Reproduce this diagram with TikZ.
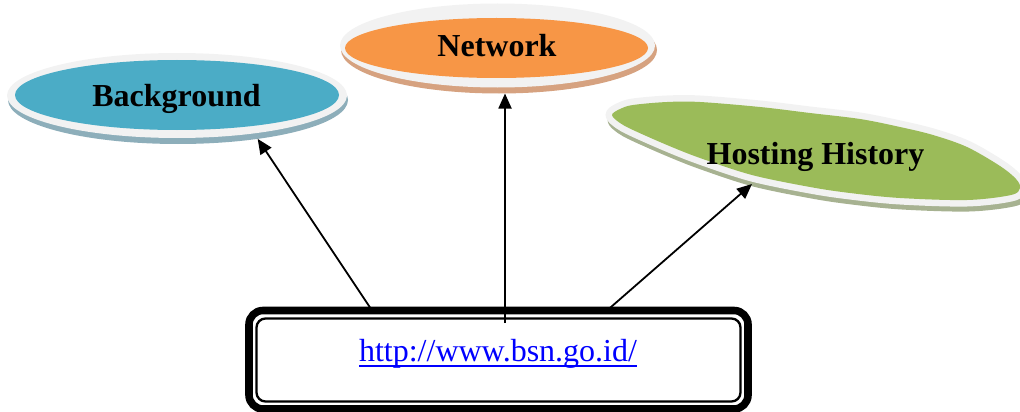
\documentclass[tikz,border=0pt]{standalone}
\usepackage{fontspec}
\setmainfont{Liberation Serif}
\usetikzlibrary{shapes.geometric,arrows.meta}

\definecolor{bgblue}{HTML}{4BACC6}
\definecolor{bgshade}{HTML}{8DAEBA}
\definecolor{netorange}{HTML}{F79646}
\definecolor{netshade}{HTML}{D6A280}
\definecolor{hostgreen}{HTML}{9BBB59}
\definecolor{hostshade}{HTML}{A7B291}
\definecolor{rim}{HTML}{F2F2F2}
\definecolor{linkblue}{HTML}{0000FF}

% hyperlink-style text: the word with a rule under it
\newcommand\ulinktext[1]{\setbox0=\hbox{#1}\rlap{\copy0}\rule[-5.5pt]{\wd0}{2pt}}

% outline of the tilted, perspective-stretched Hosting History disc
\newcommand\hostoutline{plot[smooth cycle, tension=0.55] coordinates {
  (612,115) (620,109) (633,105) (667,102) (700,102) (760,107) (810,113)
  (860,119) (900,127) (933,135) (967,147) (1000,166) (1016,179) (1020,188)
  (1011,195) (967,200) (900,198) (850,193) (810,187) (752,175) (700,158)
  (667,145) (633,130) (620,123)}}

\tikzset{
  blob/.style={ellipse, inner sep=0pt, outer sep=0pt},
  bigbold/.style={font=\fontsize{32}{38}\selectfont\bfseries, inner sep=0pt, anchor=base},
  conn/.style={line width=1.8pt, -{Triangle[length=15pt,width=13pt]}},
}

\begin{document}
\begin{tikzpicture}[x=1pt,y=-1pt]
\useasboundingbox (0,0) rectangle (1020,412);
\clip (0,0) rectangle (1020,412);

% Background bubble: shadow, bevel rim, fill, label
\node[blob, fill=bgshade, minimum width=340pt, minimum height=88pt] (bgbase) at (178,100) {};
\node[blob, fill=rim, minimum width=340pt, minimum height=85pt] (bgrim) at (177,95.5) {};
\node[blob, fill=bgblue, minimum width=324pt, minimum height=70pt] (bgfill) at (177,95) {};
\node[bigbold] (bg) at (176.5,106.7) {Background};

% Network bubble
\node[blob, fill=netshade, minimum width=316pt, minimum height=87pt] (netbase) at (499,50) {};
\node[blob, fill=rim, minimum width=315pt, minimum height=84pt] (netrim) at (497.5,45.5) {};
\node[blob, fill=netorange, minimum width=303pt, minimum height=60pt] (netfill) at (496.5,48) {};
\node[bigbold] (net) at (497,56.7) {Network};

% Hosting History bubble: shadow, rim, fill, label
\begin{scope}[shift={(2,5)}]
  \filldraw[hostshade, line width=13pt, line join=round] \hostoutline;
\end{scope}
\filldraw[rim, line width=13pt, line join=round] \hostoutline;
\fill[hostgreen] \hostoutline;
\node[bigbold] (hh) at (815.5,164) {Hosting History};
\coordinate (hhedge) at (752,184);

% URL box with thick outer and thin inner frame
\node[draw, line width=7.6pt, rounded corners=14pt, outer sep=0pt, inner sep=0pt,
      minimum width=499pt, minimum height=98.5pt] (box) at (498.5,359.75) {};
\draw[line width=2.3pt, rounded corners=9pt]
  ([shift={(7.5,8)}]box.north west) rectangle ([shift={(-7.5,-7.5)}]box.south east);
\node[font=\fontsize{32}{38}\selectfont, text=linkblue, anchor=base, inner sep=0pt]
  (url) at (498,361) {\ulinktext{http://www.bsn.go.id/}};

% connectors
\coordinate (netfoot) at ([shift={(6.5,12.5)}]box.north);
\draw[conn] ([xshift=-126.5pt]box.north) -- (bgbase.-26.6);
\draw[conn] (netfoot) -- (netfoot |- netbase.south);
\draw[conn] ([xshift=108.5pt]box.north) -- (hhedge);
\end{tikzpicture}
\end{document}
